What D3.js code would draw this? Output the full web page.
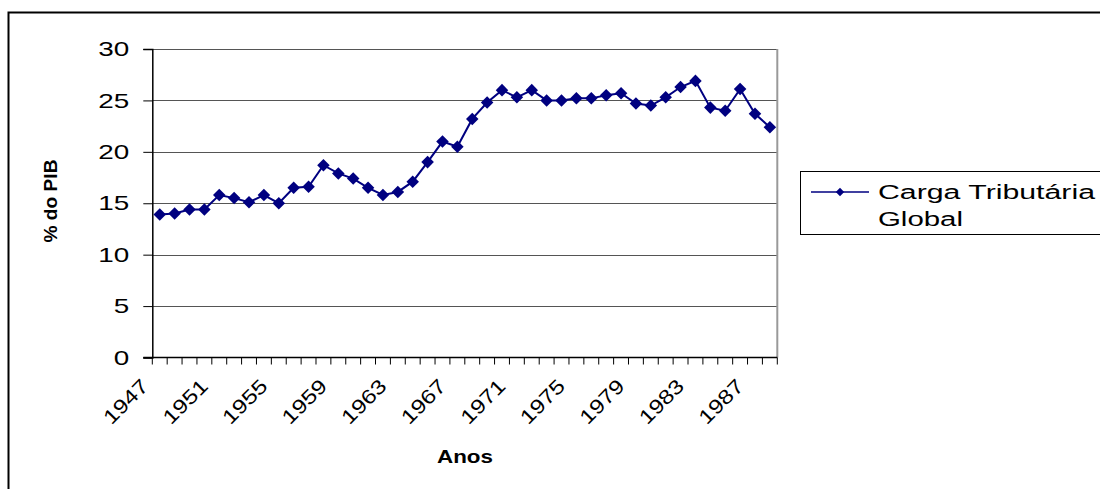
<!DOCTYPE html>
<html>
<head>
<meta charset="utf-8">
<script src="https://cdn.jsdelivr.net/npm/d3@7"></script>
<style>
  body { margin: 0; background: #fff; }
  svg { display: block; font-family: "Liberation Sans", Arial, sans-serif; }
</style>
</head>
<body>
<div class="container"></div>
<script>
const w = 1100;
const h = 489;

const years = d3.range(1947, 1989);
const carga = [13.9, 14.0, 14.4, 14.4, 15.8, 15.5, 15.1, 15.8, 15.0, 16.5,
               16.6, 18.7, 17.9, 17.4, 16.5, 15.8, 16.1, 17.1, 19.0, 21.0,
               20.5, 23.2, 24.8, 26.0, 25.3, 26.0, 25.0, 25.0, 25.2, 25.2,
               25.5, 25.7, 24.7, 24.5, 25.3, 26.3, 26.9, 24.3, 24.0, 26.1,
               23.7, 22.4];
const yTicks = [0, 5, 10, 15, 20, 25, 30];
const xLabels = [1947, 1951, 1955, 1959, 1963, 1967, 1971, 1975, 1979, 1983, 1987];
const seriesName = ["Carga Tributária", "Global"];

const plot = { left: 152.3, right: 777.3, top: 49, bottom: 357.5 };

const svg = d3.select('.container').append('svg')
        .attr('width', w)
        .attr('height', h);

// outer chart border
svg.append('rect')
    .attr('x', 8.5).attr('y', 12.5)
    .attr('width', 1200).attr('height', 600)
    .attr('fill', '#fff')
    .attr('stroke', '#000')
    .attr('stroke-width', 2);

const x = d3.scaleBand()
    .domain(years)
    .range([plot.left, plot.right])
    .padding(0);

const y = d3.scaleLinear()
    .domain([0, 30])
    .range([plot.bottom, plot.top]);

// gridlines
svg.append('g')
    .selectAll('line')
    .data(yTicks.filter(d => d > 0))
    .enter().append('line')
      .attr('x1', plot.left)
      .attr('x2', plot.right)
      .attr('y1', d => Math.round(y(d)) + 0.5)
      .attr('y2', d => Math.round(y(d)) + 0.5)
      .attr('stroke', '#555')
      .attr('stroke-width', 1);

// right border of plot area
svg.append('line')
    .attr('x1', plot.right).attr('x2', plot.right)
    .attr('y1', plot.top).attr('y2', plot.bottom)
    .attr('stroke', '#999')
    .attr('stroke-width', 2);

// y axis
const yAxis = d3.axisLeft(y)
    .tickValues(yTicks)
    .tickSize(9)
    .tickPadding(14);

const gy = svg.append('g')
    .attr('transform', `translate(${plot.left},0)`)
    .call(yAxis);
gy.select('.domain').attr('stroke', '#000').attr('stroke-width', 1.5);
gy.selectAll('.tick line').attr('stroke', '#000');
gy.selectAll('.tick text')
    .attr('font-size', 21)
    .attr('font-family', '"Liberation Sans", Arial, sans-serif')
    .attr('textLength', d => String(d).length * 15.5)
    .attr('lengthAdjust', 'spacingAndGlyphs')
    .attr('fill', '#000');

// x axis line
svg.append('line')
    .attr('x1', plot.left - 9).attr('x2', plot.right)
    .attr('y1', plot.bottom).attr('y2', plot.bottom)
    .attr('stroke', '#000')
    .attr('stroke-width', 1.5);

// x category ticks between categories
const bounds = years.map(d => x(d)).concat([x(years[years.length - 1]) + x.bandwidth()]);
svg.append('g')
    .selectAll('line')
    .data(bounds)
    .enter().append('line')
      .attr('x1', d => d).attr('x2', d => d)
      .attr('y1', plot.bottom).attr('y2', plot.bottom + 7)
      .attr('stroke', '#000')
      .attr('stroke-width', 1);

// x labels
svg.append('g')
    .selectAll('text')
    .data(xLabels)
    .enter().append('text')
      .attr('transform', d => `translate(${x(d) + x.bandwidth() / 2 - 15},${plot.bottom + 25}) rotate(-45)`)
      .attr('text-anchor', 'end')
      .attr('dominant-baseline', 'central')
      .attr('font-size', 20)
      .attr('textLength', 54)
      .attr('lengthAdjust', 'spacingAndGlyphs')
      .attr('fill', '#000')
      .text(d => d);

// axis titles
svg.append('text')
    .attr('x', 465).attr('y', 463)
    .attr('text-anchor', 'middle')
    .attr('font-size', 18)
    .attr('font-weight', 'bold')
    .attr('textLength', 56)
    .attr('lengthAdjust', 'spacingAndGlyphs')
    .text('Anos');

svg.append('text')
    .attr('transform', 'translate(57,201) rotate(-90)')
    .attr('text-anchor', 'middle')
    .attr('font-size', 18)
    .attr('font-weight', 'bold')
    .attr('textLength', 83)
    .attr('lengthAdjust', 'spacingAndGlyphs')
    .text('% do PIB');

// series line
const line = d3.line()
    .x((d, i) => x(years[i]) + x.bandwidth() / 2)
    .y(d => y(d));

svg.append('path')
    .datum(carga)
    .attr('d', line)
    .attr('fill', 'none')
    .attr('stroke', '#000080')
    .attr('stroke-width', 2);

const diamond = d3.symbol().type(d3.symbolDiamond2).size(100);

svg.append('g')
    .selectAll('path')
    .data(carga)
    .enter().append('path')
      .attr('d', diamond)
      .attr('transform', (d, i) => `translate(${x(years[i]) + x.bandwidth() / 2},${y(d)})`)
      .attr('fill', '#000080');

// legend
const legend = svg.append('g');
legend.append('rect')
    .attr('x', 800.5).attr('y', 171.5)
    .attr('width', 400).attr('height', 63)
    .attr('fill', '#fff')
    .attr('stroke', '#000')
    .attr('stroke-width', 1);
legend.append('line')
    .attr('x1', 811).attr('x2', 869)
    .attr('y1', 192).attr('y2', 192)
    .attr('stroke', '#000080')
    .attr('stroke-width', 1.5);
legend.append('path')
    .attr('d', d3.symbol().type(d3.symbolDiamond2).size(45))
    .attr('transform', 'translate(840,192)')
    .attr('fill', '#000080');
legend.append('g')
    .selectAll('text')
    .data(seriesName)
    .enter().append('text')
      .attr('x', 878)
      .attr('y', (d, i) => 199 + i * 27)
      .attr('font-size', 20)
      .attr('textLength', (d, i) => [217, 85][i])
      .attr('lengthAdjust', 'spacingAndGlyphs')
      .attr('fill', '#000')
      .text(d => d);
</script>
</body>
</html>
